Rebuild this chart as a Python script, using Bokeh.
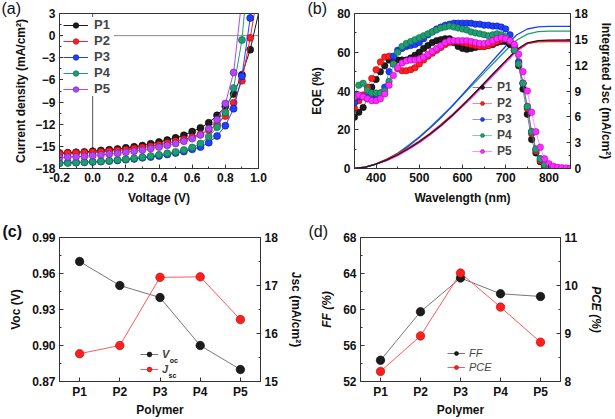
from bokeh.plotting import figure
from bokeh.models import Range1d, LinearAxis, FactorRange, Legend, LegendItem, Label, Span, FixedTicker
from bokeh.layouts import column, row
from bokeh.embed import file_html
from bokeh.resources import INLINE

FONT = "Liberation Sans"
INK = "#111111"
AXIS = "#333333"

# ---------------- data: (a) J-V curves ----------------
POLYMERS = ["P1", "P2", "P3", "P4", "P5"]
VOLTAGE = [-0.20, -0.15, -0.10, -0.05, 0.00, 0.05, 0.10, 0.15, 0.20, 0.25, 0.30, 0.35,
           0.40, 0.45, 0.50, 0.55, 0.60, 0.65, 0.70, 0.75, 0.80, 0.85, 0.90, 0.95]
J_P1 = [-15.9, -15.85, -15.8, -15.75, -15.65, -15.55, -15.45, -15.35, -15.2, -15.05, -14.9, -14.65,
        -14.4, -14.15, -13.85, -13.5, -13.0, -12.5, -11.8, -10.8, -9.6, -7.9, -5.3, -1.9]
J_P2 = [-16.0, -15.95, -15.9, -15.85, -15.8, -15.75, -15.65, -15.55, -15.45, -15.3, -15.15, -15.0,
        -14.8, -14.55, -14.3, -14.05, -13.75, -13.35, -12.8, -12.0, -10.9, -9.1, -6.1, -0.3]
J_P3 = [-17.25, -17.2, -17.2, -17.15, -17.1, -17.05, -17.0, -16.9, -16.8, -16.7, -16.55, -16.45,
        -16.3, -16.1, -15.9, -15.7, -15.4, -15.1, -14.5, -13.6, -12.2, -9.9, -5.5, 2.4]
J_P4 = [-17.3, -17.25, -17.2, -17.15, -17.1, -17.05, -16.95, -16.85, -16.75, -16.6, -16.45, -16.3,
        -16.15, -15.95, -15.75, -15.5, -15.15, -14.6, -13.7, -12.4, -10.4, -7.1, -0.6]
J_P5 = [-16.5, -16.45, -16.4, -16.35, -16.25, -16.15, -16.05, -15.95, -15.8, -15.65, -15.5, -15.3,
        -15.1, -14.85, -14.6, -14.3, -13.95, -13.45, -12.6, -11.4, -9.2, -5.0]
# voltage where each curve leaves the top of the panel (J = 3 mA/cm2)
V_TOP = [1.00, 0.975, 0.955, 0.915, 0.89]
J_TOP = 3.0
VOLT_TICKS = [-0.2, 0.0, 0.2, 0.4, 0.6, 0.8, 1.0]
VOLT_LABELS = ["-0.2", "0.0", "0.2", "0.4", "0.6", "0.8", "1.0"]
J_TICKS = [-18, -15, -12, -9, -6, -3, 0, 3]

# ---------------- data: (b) EQE and integrated Jsc ----------------
WAVELENGTH = [350, 360, 370, 380, 390, 400, 410, 420, 430, 440, 450, 460, 470, 480, 490,
              500, 510, 520, 530, 540, 550, 560, 570, 580, 590, 600, 610, 620, 630, 640,
              650, 660, 670, 680, 690, 700, 710, 720, 730, 740, 750, 760, 770, 780, 790,
              800, 810, 820, 830, 840, 850]
EQE_P1 = [26.5, 29, 31.5, 36, 42, 46, 50, 53, 56, 57, 56, 56, 56, 57, 58.5, 60, 62, 63.5, 65, 66,
          66.5, 67, 67, 65, 63, 62, 61.5, 62, 62.5, 63, 63, 63.5, 64, 65, 65.5, 65.5, 64, 61, 53, 41,
          28, 15, 8, 3.5, 1, 0.3]
EQE_P2 = [31, 35, 38, 42, 46.5, 51, 55, 57.5, 58, 54, 51.5, 50.5, 50.5, 51, 52, 54, 56, 58, 59.5, 61,
          62.5, 64, 65, 65.5, 65.5, 65, 64.5, 64, 63.5, 63, 63, 63.5, 64.5, 65.5, 66.5, 67, 65.5, 62, 55, 44,
          31, 18, 9, 4, 1.5, 0.5]
EQE_P3 = [34, 37, 37, 37, 37, 38, 39, 42, 50, 58, 61, 62, 63, 63.5, 64, 65, 67, 69, 70.5, 72,
          73, 74, 74.5, 75, 75, 75, 75, 75, 74.5, 74.5, 74, 74, 73.5, 73.5, 73, 72, 69, 63, 55, 44,
          32, 19, 10, 5, 2, 0.5]
EQE_P4 = [38, 43, 44, 40.5, 39, 39, 39, 40, 45, 54, 60, 63, 64.5, 65.5, 66.5, 67.5, 68.5, 69.5, 70.5, 71.5,
          72.5, 73, 73.5, 73, 72.5, 72, 71.5, 70.5, 70, 69.5, 69, 68.5, 69, 69.5, 69, 68, 66, 61, 54, 44,
          32, 19, 10, 5, 2, 0.5]
EQE_P5 = [37, 38, 37, 36, 35, 35, 36, 38.5, 43, 48, 52, 54.5, 55.5, 56, 56, 56.5, 57.5, 59, 60.5, 62,
          63.5, 65, 66, 66, 66, 66, 66, 65.5, 65, 64.5, 64.5, 65, 66, 67, 67.5, 67, 66, 64, 59, 50,
          40, 29, 19, 11, 5, 2.5, 1.2, 0.6, 0.4, 0.3, 0.2]
WL_INT = [350, 375, 400, 425, 450, 475, 500, 525, 550, 575, 600, 625, 650, 675, 700, 725, 750, 775, 800, 825, 850]
INT_P1 = [0, 0.15, 0.5, 1.0, 1.6, 2.3, 3.1, 4.0, 5.0, 6.1, 7.3, 8.6, 9.9, 11.2, 12.5, 13.8, 14.6, 14.85, 14.9, 14.9, 14.9]
INT_P2 = [0, 0.15, 0.55, 1.1, 1.7, 2.4, 3.2, 4.1, 5.1, 6.2, 7.4, 8.6, 9.9, 11.2, 12.5, 13.7, 14.5, 14.7, 14.75, 14.75, 14.75]
INT_P3 = [0, 0.15, 0.5, 1.0, 1.7, 2.6, 3.6, 4.7, 5.9, 7.2, 8.6, 10.0, 11.4, 12.8, 14.2, 15.5, 16.2, 16.45, 16.5, 16.5, 16.5]
INT_P4 = [0, 0.15, 0.55, 1.1, 1.8, 2.7, 3.7, 4.8, 6.0, 7.2, 8.5, 9.8, 11.1, 12.4, 13.7, 14.9, 15.6, 15.9, 15.95, 15.95, 15.95]
INT_P5 = [0, 0.15, 0.5, 0.9, 1.5, 2.2, 3.0, 3.9, 4.9, 6.0, 7.2, 8.4, 9.7, 11.0, 12.3, 13.6, 14.5, 14.8, 14.85, 14.9, 14.9]
WL_TICKS = [400, 500, 600, 700, 800]
EQE_TICKS = [0, 20, 40, 60, 80]
INT_TICKS = [0, 3, 6, 9, 12, 15, 18]

# ---------------- data: (c) Voc / Jsc, (d) FF / PCE ----------------
VOC = [0.97, 0.95, 0.94, 0.90, 0.88]
JSC = [15.58, 15.75, 17.17, 17.18, 16.29]
FF = [54.36, 59.75, 63.5, 61.75, 61.45]
PCE = [8.21, 8.95, 10.26, 9.55, 8.82]
VOC_TICKS = [0.87, 0.90, 0.93, 0.96, 0.99]
VOC_LABELS = ["0.87", "0.90", "0.93", "0.96", "0.99"]
JSC_TICKS = [15, 16, 17, 18]
FF_TICKS = [52, 56, 60, 64, 68]
PCE_TICKS = [8, 9, 10, 11]

COLORS_A = ["#1c1c1c", "#ff1f1f", "#2040ff", "#1f9e70", "#b347f5"]
COLORS_B = ["#1c1c1c", "#ff1f1f", "#2040ff", "#1f9e70", "#ff2bff"]
EDGES_A = ["#000000", "#b00000", "#0010a0", "#0b5e40", "#6a1aa0"]
EDGES_B = ["#000000", "#b00000", "#0010a0", "#0b5e40", "#a000a0"]


def base_fig(width, height, x_range, y_range, bl, br, bt, bb):
    p = figure(width=width, height=height, x_range=x_range, y_range=y_range,
               output_backend="svg", toolbar_location=None,
               min_border_left=bl, min_border_right=br, min_border_top=bt, min_border_bottom=bb)
    p.grid.visible = False
    p.outline_line_color = AXIS
    p.outline_line_width = 1
    p.background_fill_color = "white"
    p.border_fill_color = "white"
    return p


def style_axis(ax):
    ax.axis_line_color = AXIS
    ax.major_tick_line_color = AXIS
    ax.minor_tick_line_color = AXIS
    ax.major_tick_in = 4
    ax.major_tick_out = 0
    ax.minor_tick_in = 2
    ax.minor_tick_out = 0
    ax.major_label_text_font = FONT
    ax.major_label_text_font_style = "bold"
    ax.major_label_text_font_size = "12px"
    ax.major_label_text_color = INK
    ax.major_label_standoff = 4
    ax.axis_label_text_font = FONT
    ax.axis_label_text_font_style = "bold"
    ax.axis_label_text_font_size = "12px"
    ax.axis_label_text_color = INK
    ax.axis_label_standoff = 6


def tag(p, text, offset, standoff):
    p.title.text = text
    p.title.align = "left"
    p.title.offset = offset
    p.title.standoff = standoff
    p.title.text_font = FONT
    p.title.text_font_size = "16px"
    p.title.text_font_style = "normal"
    p.title.text_color = INK


# ================= (a) =================
pa = base_fig(305, 210, Range1d(-0.2, 1.0), Range1d(-18, 3), 59, 47, 7, 42)
tag(pa, "(a)", -58, -6)
pa.add_layout(Span(location=0, dimension="height", line_color="#555555", line_width=1, level="underlay"))
pa.add_layout(Span(location=0, dimension="width", line_color="#8a8a8a", line_width=1, level="underlay"))
items_a = []
for i, J in enumerate([J_P1, J_P2, J_P3, J_P4, J_P5]):
    n = len(J)
    xs = VOLTAGE[:n]
    ln = pa.line(xs + [V_TOP[i]], J + [J_TOP], line_color=COLORS_A[i], line_width=1)
    sc = pa.scatter(xs, J, size=7, fill_color=COLORS_A[i], line_color=EDGES_A[i], line_width=0.6)
    items_a.append(LegendItem(label=POLYMERS[i], renderers=[ln, sc]))
for ax in pa.axis:
    style_axis(ax)
pa.xaxis.ticker = FixedTicker(ticks=VOLT_TICKS, minor_ticks=[-0.1 + 0.2 * k for k in range(6)])
pa.xaxis.major_label_overrides = {t: l for t, l in zip(VOLT_TICKS, VOLT_LABELS)}
pa.yaxis.ticker = FixedTicker(ticks=J_TICKS, minor_ticks=[-16.5 + 3 * k for k in range(7)])
pa.xaxis.axis_label = "Voltage (V)"
pa.yaxis.axis_label = "Current density (mA/cm²)"
pa.yaxis.axis_label_standoff = 4
leg_a = Legend(items=items_a, location="top_left", padding=2, margin=4, spacing=1,
               glyph_width=25, glyph_height=14, label_height=14, label_standoff=6,
               label_text_font=FONT, label_text_font_size="13px", label_text_font_style="bold",
               background_fill_color="white", background_fill_alpha=1.0, border_line_color=None)
pa.add_layout(leg_a)

# ================= (b) =================
pb = base_fig(310, 210, Range1d(350, 850), Range1d(0, 80), 49, 42, 7, 42)
tag(pb, "(b)", -47, -6)
pb.extra_y_ranges = {"int": Range1d(0, 18)}
for i, INT in reversed(list(enumerate([INT_P1, INT_P2, INT_P3, INT_P4, INT_P5]))):
    pb.line(WL_INT, INT, y_range_name="int", line_color=COLORS_B[i], line_width=1.3)
items_b = []
for i, E in enumerate([EQE_P1, EQE_P2, EQE_P3, EQE_P4, EQE_P5]):
    xs = WAVELENGTH[:len(E)]
    ln = pb.line(xs, E, line_color=COLORS_B[i], line_width=1, line_alpha=0.55)
    sc = pb.scatter(xs, E, size=6.5, fill_color=COLORS_B[i], line_color=EDGES_B[i], line_width=0.5)
    items_b.append(LegendItem(label=POLYMERS[i], renderers=[ln, sc]))
rax_b = LinearAxis(y_range_name="int")
pb.add_layout(rax_b, "right")
for ax in pb.axis:
    style_axis(ax)
pb.xaxis.ticker = FixedTicker(ticks=WL_TICKS, minor_ticks=[350, 450, 550, 650, 750, 850])
pb.yaxis[0].ticker = FixedTicker(ticks=EQE_TICKS, minor_ticks=[10, 30, 50, 70])
rax_b.ticker = FixedTicker(ticks=INT_TICKS, minor_ticks=[1.5 + 3 * k for k in range(6)])
pb.xaxis.axis_label = "Wavelength (nm)"
pb.yaxis[0].axis_label = "EQE (%)"
pb.yaxis[0].axis_label_standoff = 10
rax_b.axis_label = "Integrated Jsc (mA/cm²)"
rax_b.axis_label_standoff = 8
leg_b = Legend(items=items_b, location=(118, 10), padding=0, margin=0, spacing=2,
               glyph_width=20, glyph_height=10, label_height=10, label_standoff=5,
               label_text_font=FONT, label_text_font_size="12px", label_text_font_style="bold",
               background_fill_alpha=0, border_line_color=None)
pb.add_layout(leg_b)

# ================= (c) =================
pc = base_fig(305, 209, FactorRange(factors=POLYMERS), Range1d(0.87, 0.99), 59, 45, 27, 35)
tag(pc, "(c)", -57, -4)
pc.title.text_font_style = "bold"
pc.extra_y_ranges = {"jsc": Range1d(15, 18)}
l_voc = pc.line(POLYMERS, VOC, line_color="#777777", line_width=1)
l_jsc = pc.line(POLYMERS, JSC, y_range_name="jsc", line_color="#ff5a5a", line_width=1)
s_voc = pc.scatter(POLYMERS, VOC, size=8.5, fill_color="#1c1c1c", line_color="#000000", line_width=0.6)
s_jsc = pc.scatter(POLYMERS, JSC, y_range_name="jsc", size=8.5, fill_color="#ff1f1f", line_color="#b00000", line_width=0.6)
rax_c = LinearAxis(y_range_name="jsc")
pc.add_layout(rax_c, "right")
for ax in pc.axis:
    style_axis(ax)
pc.xaxis.axis_label = "Polymer"
pc.xaxis.axis_label_standoff = 1
pc.xaxis.major_label_standoff = 3
pc.yaxis[0].ticker = FixedTicker(ticks=VOC_TICKS, minor_ticks=[0.885, 0.915, 0.945, 0.975])
pc.yaxis[0].major_label_overrides = {t: l for t, l in zip(VOC_TICKS, VOC_LABELS)}
pc.yaxis[0].axis_label = "Voc (V)"
rax_c.ticker = FixedTicker(ticks=JSC_TICKS, minor_ticks=[15.5, 16.5, 17.5])
rax_c.axis_label = "Jsc (mA/cm²)"
rax_c.axis_label_standoff = 8
C_LX, C_LY = 81, 6
leg_c = Legend(items=[LegendItem(label="V", renderers=[l_voc, s_voc]),
                      LegendItem(label="J", renderers=[l_jsc, s_jsc])],
               location=(C_LX, C_LY), padding=0, margin=0, spacing=3,
               glyph_width=18, glyph_height=12, label_height=12, label_standoff=4,
               label_text_font=FONT, label_text_font_size="11px", label_text_font_style="bold italic",
               background_fill_alpha=0, border_line_color=None)
pc.add_layout(leg_c)
for k, (sub, lead) in enumerate([("oc", 7.3), ("sc", 6.1)]):
    cy = C_LY + 12 + 3 + 6 - k * 15
    pc.add_layout(Label(x=C_LX + 18 + 4 + lead, y=cy - 6, x_units="screen", y_units="screen",
                        text=sub, text_font=FONT, text_font_size="7px", text_font_style="bold",
                        text_align="left", text_baseline="alphabetic", text_color=INK))

# ================= (d) =================
pd_ = base_fig(310, 209, FactorRange(factors=POLYMERS), Range1d(52, 68), 55, 55, 27, 35)
tag(pd_, "(d)", -52, -4)
pd_.extra_y_ranges = {"pce": Range1d(8, 11)}
l_ff = pd_.line(POLYMERS, FF, line_color="#777777", line_width=1)
l_pce = pd_.line(POLYMERS, PCE, y_range_name="pce", line_color="#ff5a5a", line_width=1)
s_ff = pd_.scatter(POLYMERS, FF, size=8.5, fill_color="#1c1c1c", line_color="#000000", line_width=0.6)
s_pce = pd_.scatter(POLYMERS, PCE, y_range_name="pce", size=8.5, fill_color="#ff1f1f", line_color="#b00000", line_width=0.6)
rax_d = LinearAxis(y_range_name="pce")
pd_.add_layout(rax_d, "right")
for ax in pd_.axis:
    style_axis(ax)
pd_.xaxis.axis_label = "Polymer"
pd_.xaxis.axis_label_standoff = 1
pd_.xaxis.major_label_standoff = 3
pd_.yaxis[0].ticker = FixedTicker(ticks=FF_TICKS, minor_ticks=[54, 58, 62, 66])
pd_.yaxis[0].axis_label = "FF (%)"
pd_.yaxis[0].axis_label_text_font_style = "bold italic"
rax_d.ticker = FixedTicker(ticks=PCE_TICKS, minor_ticks=[8.5, 9.5, 10.5])
rax_d.axis_label = "PCE (%)"
rax_d.axis_label_text_font_style = "bold italic"
rax_d.axis_label_standoff = 8
leg_d = Legend(items=[LegendItem(label="FF", renderers=[l_ff, s_ff]),
                      LegendItem(label="PCE", renderers=[l_pce, s_pce])],
               location=(87, 8), padding=0, margin=0, spacing=2,
               glyph_width=18, glyph_height=10, label_height=10, label_standoff=4,
               label_text_font=FONT, label_text_font_size="11px", label_text_font_style="italic",
               background_fill_alpha=0, border_line_color=None)
pd_.add_layout(leg_d)

layout = column(row(pa, pb), row(pc, pd_))
open("out.html", "w").write(file_html(layout, INLINE))
